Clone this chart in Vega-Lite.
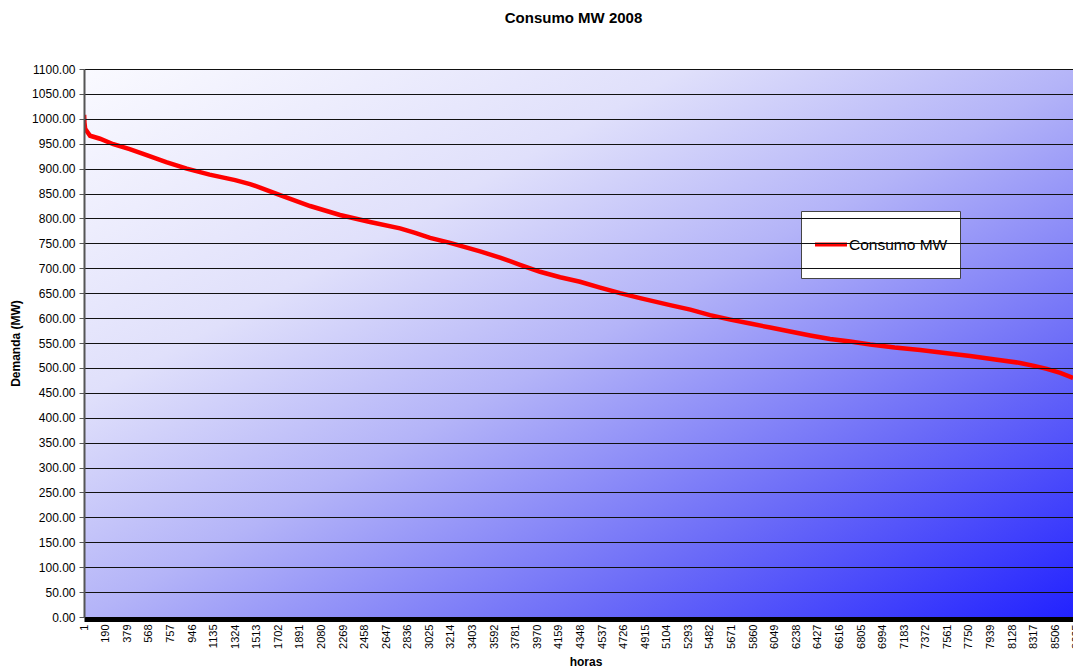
{
  "$schema": "https://vega.github.io/schema/vega-lite/v6.json",
  "width": 989,
  "height": 548,
  "autosize": {"type": "none"},
  "padding": {"left": 84, "top": 69, "right": 0, "bottom": 54},
  "background": "white",
  "title": {"text": "Consumo MW 2008", "font": "Liberation Sans", "fontSize": 15, "fontWeight": "bold", "color": "black", "offset": 37, "dx": -5, "frame": "group"},
  "layer": [
    {
      "data": {"values": [{}]},
      "mark": {"type": "rect", "clip": true,
        "color": {"gradient": "linear", "x1": 0, "y1": 0, "x2": 1, "y2": 1,
          "stops": [
            {"offset": 0, "color": "#fafaff"},
            {"offset": 0.3, "color": "#e0e0fb"},
            {"offset": 0.5, "color": "#b4b4f8"},
            {"offset": 0.75, "color": "#6a6af8"},
            {"offset": 1, "color": "#2020ff"}
          ]}},
      "encoding": {
        "x": {"datum": 0, "type": "quantitative"},
        "x2": {"datum": 8784},
        "y": {"datum": 0, "type": "quantitative"},
        "y2": {"datum": 1100}
      }
    },
    {
      "data": {"values": [
        {"hora": 1, "demanda": 1008},
        {"hora": 4, "demanda": 992},
        {"hora": 10, "demanda": 980},
        {"hora": 53, "demanda": 966},
        {"hora": 140, "demanda": 960},
        {"hora": 257, "demanda": 949},
        {"hora": 400, "demanda": 939},
        {"hora": 549, "demanda": 927},
        {"hora": 720, "demanda": 913},
        {"hora": 900, "demanda": 900},
        {"hora": 1100, "demanda": 888},
        {"hora": 1324, "demanda": 877},
        {"hora": 1454, "demanda": 869},
        {"hora": 1542, "demanda": 862},
        {"hora": 1717, "demanda": 847},
        {"hora": 1980, "demanda": 825},
        {"hora": 2242, "demanda": 807},
        {"hora": 2505, "demanda": 793},
        {"hora": 2768, "demanda": 780},
        {"hora": 2900, "demanda": 771},
        {"hora": 3031, "demanda": 761},
        {"hora": 3206, "demanda": 751},
        {"hora": 3469, "demanda": 734},
        {"hora": 3650, "demanda": 721},
        {"hora": 3819, "demanda": 707},
        {"hora": 3994, "demanda": 693},
        {"hora": 4170, "demanda": 682},
        {"hora": 4344, "demanda": 673},
        {"hora": 4520, "demanda": 661},
        {"hora": 4695, "demanda": 650},
        {"hora": 4870, "demanda": 640},
        {"hora": 5133, "demanda": 626},
        {"hora": 5310, "demanda": 617},
        {"hora": 5483, "demanda": 606},
        {"hora": 5660, "demanda": 597},
        {"hora": 5834, "demanda": 589},
        {"hora": 6010, "demanda": 581},
        {"hora": 6184, "demanda": 573},
        {"hora": 6360, "demanda": 565},
        {"hora": 6534, "demanda": 558},
        {"hora": 6710, "demanda": 553},
        {"hora": 6885, "demanda": 547},
        {"hora": 7100, "demanda": 541},
        {"hora": 7323, "demanda": 536},
        {"hora": 7540, "demanda": 530},
        {"hora": 7761, "demanda": 524},
        {"hora": 7980, "demanda": 517},
        {"hora": 8199, "demanda": 510},
        {"hora": 8320, "demanda": 504},
        {"hora": 8432, "demanda": 498},
        {"hora": 8550, "demanda": 490},
        {"hora": 8662, "demanda": 480}
      ]},
      "mark": {"type": "line", "strokeWidth": 4.5, "clip": true},
      "encoding": {
        "x": {"field": "hora", "type": "quantitative"},
        "y": {"field": "demanda", "type": "quantitative"},
        "color": {
          "datum": "Consumo MW", "type": "nominal",
          "scale": {"range": ["#ff0000"]},
          "legend": {
            "title": null, "orient": "none", "legendX": 717, "legendY": 142,
            "fillColor": "white", "strokeColor": "#444444", "cornerRadius": 0,
            "padding": 12, "clipHeight": 43,
            "symbolType": "stroke", "symbolSize": 1024, "symbolStrokeWidth": 4, "symbolStrokeColor": "#ff0000",
            "labelFont": "Liberation Sans", "labelFontSize": 15.5, "labelColor": "black", "labelOffset": 0
          }
        }
      }
    }
  ],
  "encoding": {
    "x": {
      "type": "quantitative", "title": "horas",
      "scale": {"domain": [0, 8784], "range": [0, 1003], "nice": false, "zero": false},
      "axis": {
        "values": [1,190,379,568,757,946,1135,1324,1513,1702,1891,2080,2269,2458,2647,2836,3025,3214,3403,3592,3781,3970,4159,4348,4537,4726,4915,5104,5293,5482,5671,5860,6049,6238,6427,6616,6805,6994,7183,7372,7561,7750,7939,8128,8317,8506,8695],
        "format": "d", "labelAngle": -90, "labelAlign": "right", "labelBaseline": "middle",
        "labelFont": "Liberation Sans", "labelFontSize": 11, "labelColor": "black",
        "labelFlush": false, "labelOverlap": false, "ticks": false,
        "domainColor": "black", "domainWidth": 5, "offset": 2, "labelPadding": 5,
        "grid": false, "zindex": 1,
        "titleFont": "Liberation Sans", "titleFontSize": 12, "titleFontWeight": "bold", "titleColor": "black", "titlePadding": 8
      }
    },
    "y": {
      "type": "quantitative", "title": "Demanda (MW)",
      "scale": {"domain": [0, 1100], "nice": false},
      "axis": {
        "values": [0,50,100,150,200,250,300,350,400,450,500,550,600,650,700,750,800,850,900,950,1000,1050,1100],
        "format": ".2f", "labelFont": "Liberation Sans", "labelFontSize": 12, "labelColor": "black",
        "tickColor": "#555555", "tickSize": 5, "domainColor": "#555555", "domainWidth": 2, "labelPadding": 4,
        "grid": true, "gridColor": "#111111", "gridWidth": 1, "labelOverlap": false, "zindex": 1,
        "titleFont": "Liberation Sans", "titleFontSize": 12, "titleFontWeight": "bold", "titleColor": "black", "titlePadding": 9
      }
    }
  },
  "config": {
    "font": "Liberation Sans",
    "view": {"stroke": null}
  }
}
